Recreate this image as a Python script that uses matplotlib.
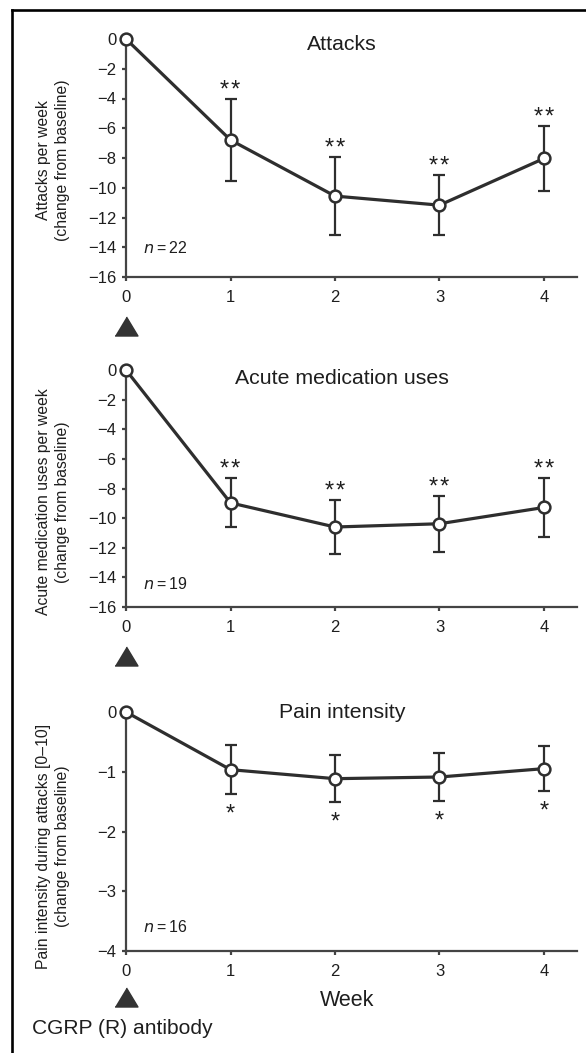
import matplotlib
matplotlib.use("Agg")
import matplotlib.pyplot as plt
from matplotlib.lines import Line2D
import matplotlib.transforms as mtransforms

plt.rcParams['font.family'] = ['Liberation Sans', 'DejaVu Sans']

weeks = [0, 1, 2, 3, 4]
week_labels = ['0', '1', '2', '3', '4']

attacks_mean = [0, -6.79, -10.56, -11.17, -8.03]
attacks_err = [0, 2.78, 2.63, 2.02, 2.20]
attacks_sig = ['', '**', '**', '**', '**']

acute_mean = [0, -8.97, -10.60, -10.38, -9.28]
acute_err = [0, 1.66, 1.80, 1.88, 1.97]
acute_sig = ['', '**', '**', '**', '**']

pain_mean = [0, -0.965, -1.116, -1.088, -0.948]
pain_err = [0, 0.41, 0.39, 0.40, 0.38]
pain_sig = ['', '*', '*', '*', '*']

W, H = 586, 1053
fig = plt.figure(figsize=(W / 100, H / 100), dpi=100)

DARK = '#2e2e2e'
AX = '#444444'
TXT = '#1e1e1e'

panels = [
    dict(top=39, bottom=277, mean=attacks_mean, err=attacks_err, sig=attacks_sig,
         ylim=(-16, 0), yticks=list(range(0, -17, -2)),
         title='Attacks', title_y=44,
         ylabel='Attacks per week\n(change from baseline)', ylab_y=160,
         n='22', n_y=248, star_side='above'),
    dict(top=370, bottom=607, mean=acute_mean, err=acute_err, sig=acute_sig,
         ylim=(-16, 0), yticks=list(range(0, -17, -2)),
         title='Acute medication uses', title_y=378,
         ylabel='Acute medication uses per week\n(change from baseline)', ylab_y=502,
         n='19', n_y=584, star_side='above'),
    dict(top=712, bottom=951, mean=pain_mean, err=pain_err, sig=pain_sig,
         ylim=(-4, 0), yticks=[0, -1, -2, -3, -4],
         title='Pain intensity', title_y=712,
         ylabel='Pain intensity during attacks [0\u201310]\n(change from baseline)', ylab_y=846,
         n='16', n_y=927, star_side='below'),
]

x_left, x_right = 126, 577
unit = 104.5
xmax = (x_right - x_left) / unit
tri = [(-1, -0.83), (1, -0.83), (0, 0.83)]

for p in panels:
    ax = fig.add_axes([x_left / W, 1 - p['bottom'] / H,
                       (x_right - x_left) / W, (p['bottom'] - p['top']) / H])
    ax.set_xlim(0, xmax)
    ax.set_ylim(*p['ylim'])
    for s in ['top', 'right']:
        ax.spines[s].set_visible(False)
    for s in ['left', 'bottom']:
        ax.spines[s].set_color(AX)
        ax.spines[s].set_linewidth(1.6)
    ax.set_xticks(weeks)
    ax.set_xticklabels(week_labels)
    ax.set_yticks(p['yticks'])
    ax.set_yticklabels([str(t).replace('-', '\u2212') for t in p['yticks']])
    ax.tick_params(axis='both', direction='out', length=3, width=1.6, color=AX,
                   labelsize=12, labelcolor=TXT)
    ax.tick_params(axis='y', pad=4)
    ax.tick_params(axis='x', pad=6)
    ax.patch.set_alpha(0)

    ax.errorbar(weeks, p['mean'], yerr=p['err'], fmt='none', ecolor=DARK,
                elinewidth=1.6, capsize=4.5, capthick=1.6, clip_on=False, zorder=2)
    ax.plot(weeks, p['mean'], '-', color=DARK, lw=2.3, marker='o', ms=8.5,
            mfc='white', mec=DARK, mew=1.8, clip_on=False, zorder=3)

    for x, m, e, s in zip(weeks, p['mean'], p['err'], p['sig']):
        if not s:
            continue
        label = '\u200a'.join(s)
        if p['star_side'] == 'above':
            ax.annotate(label, (x, m + e), xytext=(0, 5.8), textcoords='offset points',
                        ha='center', va='center', fontsize=17, color=TXT)
        else:
            ax.annotate(label, (x, m - e), xytext=(0, -14.8), textcoords='offset points',
                        ha='center', va='center', fontsize=17, color=TXT)

    ax.text((342 - x_left) / unit, 1 - (p['title_y'] - p['top']) / (p['bottom'] - p['top']),
            p['title'], transform=mtransforms.blended_transform_factory(ax.transData, ax.transAxes),
            ha='center', va='center', fontsize=15.3, color=TXT)

    ax.set_ylabel(p['ylabel'], fontsize=11.3, color=TXT, ha='center', va='center',
                  linespacing=1.4)
    ax.yaxis.set_label_coords((53 - x_left) / (x_right - x_left),
                              1 - (p['ylab_y'] - p['top']) / (p['bottom'] - p['top']))

    ax.text((143 - x_left) / (x_right - x_left),
            1 - (p['n_y'] - p['top']) / (p['bottom'] - p['top']),
            r'$n$' + '\u2009=\u2009' + p['n'], transform=ax.transAxes, ha='left', va='center',
            fontsize=11.5, color=TXT)

    tri_off = 49 if p is not panels[2] else 46
    ax.plot([0], [-tri_off / (p['bottom'] - p['top'])], marker=tri, ms=16.5, color='#333333',
            transform=mtransforms.blended_transform_factory(ax.transData, ax.transAxes),
            clip_on=False)
    last_ax = ax

last_ax.text((347 - x_left) / unit, 1 - (1000 - 712) / (951 - 712), 'Week',
             transform=mtransforms.blended_transform_factory(last_ax.transData, last_ax.transAxes),
             ha='center', va='center', fontsize=15.5, color=TXT)
fig.text(32 / W, 1 - 1028 / H, 'CGRP (R) antibody', ha='left', va='center',
         fontsize=15.1, color=TXT)

fig.add_artist(Line2D([11.5 / W, 11.5 / W], [0, 1 - 10 / H], color='black', lw=1.9,
                      transform=fig.transFigure))
fig.add_artist(Line2D([11.5 / W, 1], [1 - 10 / H, 1 - 10 / H], color='black', lw=1.9,
                      transform=fig.transFigure))

fig.savefig('out.png', dpi=100, facecolor='white')
